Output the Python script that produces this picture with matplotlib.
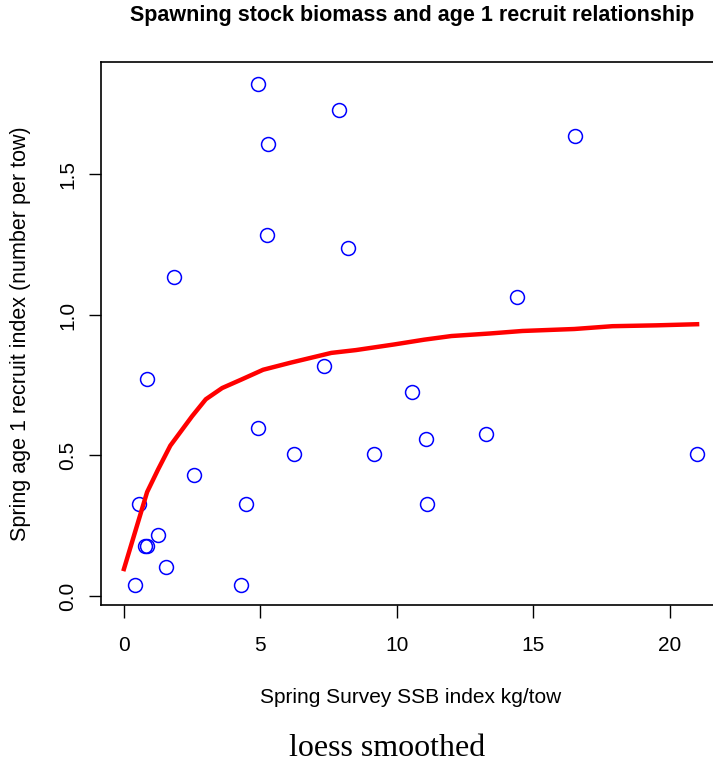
import matplotlib
matplotlib.use("Agg")
import matplotlib.pyplot as plt

# observed points (SSB index, age 1 recruit index)
ssb = [4.91, 7.88, 5.27, 16.52, 5.24, 8.2, 1.83, 14.4, 0.84, 7.33, 10.55,
       4.91, 6.23, 9.16, 11.06, 13.26, 20.99, 2.56, 0.55, 4.47, 11.1,
       1.25, 0.78, 0.85, 1.54, 0.40, 4.29]
recruits = [1.823, 1.730, 1.61, 1.635, 1.284, 1.238, 1.135, 1.064, 0.773,
            0.819, 0.727, 0.596, 0.507, 0.507, 0.557, 0.578, 0.507, 0.429,
            0.326, 0.326, 0.326, 0.216, 0.177, 0.177, 0.103, 0.039, 0.039]

# loess fit
fit_x = [0.0, 0.85, 1.25, 1.7, 2.5, 3.0, 3.6, 4.3, 5.1, 6.1, 7.6, 8.5,
         9.9, 11.0, 12.0, 13.4, 14.6, 16.5, 17.9, 19.5, 21.0]
fit_y = [0.096, 0.37, 0.45, 0.535, 0.64, 0.70, 0.74, 0.77, 0.805, 0.83,
         0.865, 0.875, 0.895, 0.912, 0.925, 0.934, 0.943, 0.95, 0.96,
         0.963, 0.967]

plt.rcParams["font.family"] = ["Liberation Sans", "DejaVu Sans"]

fig = plt.figure(figsize=(7.13, 7.68), dpi=100)
ax = fig.add_axes([101 / 713, 1 - 605 / 768, 619 / 713, 543 / 768])

ax.plot(ssb, recruits, "o", mfc="none", mec="blue", ms=10, mew=1.1)
ax.plot(fit_x, fit_y, color="red", lw=3.2)

ax.set_xlim(-0.84, 21.84)
ax.set_ylim(-0.032, 1.90)
ax.set_xticks([0, 5, 10, 15, 20])
ax.set_yticks([0.0, 0.5, 1.0, 1.5])
ax.set_yticklabels(["0.0", "0.5", "1.0", "1.5"], rotation=90, va="center")
ax.tick_params(direction="out", length=9, width=1, labelsize=15)
ax.tick_params(axis="x", pad=13)
ax.tick_params(axis="y", pad=8)
for s in ax.spines.values():
    s.set_linewidth(1.2)

ax.set_xlabel("Spring Survey SSB index kg/tow", fontsize=15, labelpad=24)
ax.set_ylabel("Spring age 1 recruit index (number per tow)", fontsize=15.5,
              labelpad=20)
fig.text(412 / 713, 1 - 16 / 768, "Spawning stock biomass and age 1 recruit relationship",
         ha="center", va="center", fontsize=15.5, fontweight="bold")
fig.text(387 / 713, 1 - 748 / 768, "loess smoothed", ha="center", va="center",
         fontsize=23, family="Liberation Serif")

fig.savefig("out.png", dpi=100)
